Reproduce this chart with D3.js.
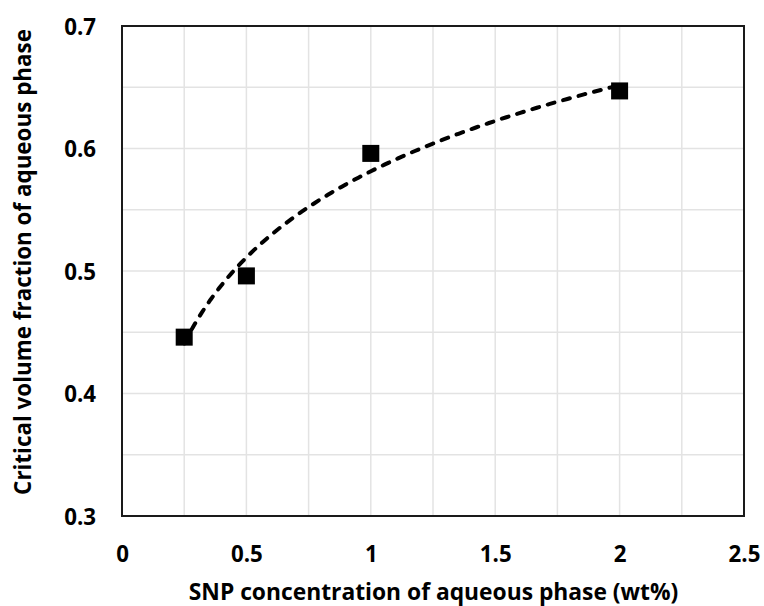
<!DOCTYPE html>
<html>
<head>
<meta charset="utf-8">
<script src="https://cdn.jsdelivr.net/npm/d3@7"></script>
<style>
  html, body { margin: 0; padding: 0; background: #fff; }
  text { font-family: "Open Sans", "Noto Sans", sans-serif; font-weight: 700; fill: #000; }
</style>
</head>
<body>
<svg id="chart" width="764" height="606"></svg>
<script>
// Data
const snpConcentration = [0.25, 0.5, 1, 2];
const criticalFraction = [0.446, 0.496, 0.596, 0.647];
const xTicks = [0, 0.5, 1, 1.5, 2, 2.5];
const yTicks = [0.3, 0.4, 0.5, 0.6, 0.7];
const xTitle = "SNP concentration of aqueous phase (wt%)";
const yTitle = "Critical volume fraction of aqueous phase";

const svg = d3.select("#chart");
const W = 764, H = 606;
const margin = { left: 122, top: 26, right: W - 744, bottom: H - 516 };

const x = d3.scaleLinear().domain([0, 2.5]).range([margin.left, W - margin.right]);
const y = d3.scaleLinear().domain([0.3, 0.7]).range([H - margin.bottom, margin.top]);

// Gridlines (major + minor)
const xGrid = d3.range(0, 2.5001, 0.25);
const yGrid = d3.range(0.3, 0.7001, 0.05);
svg.append("g").selectAll("line").data(xGrid).join("line")
  .attr("x1", d => x(d)).attr("x2", d => x(d))
  .attr("y1", y(0.3)).attr("y2", y(0.7))
  .attr("stroke", "#e3e3e3").attr("stroke-width", 1.5);
svg.append("g").selectAll("line").data(yGrid).join("line")
  .attr("x1", x(0)).attr("x2", x(2.5))
  .attr("y1", d => y(d)).attr("y2", d => y(d))
  .attr("stroke", "#e3e3e3").attr("stroke-width", 1.5);

// Frame
svg.append("rect")
  .attr("x", x(0)).attr("y", y(0.7))
  .attr("width", x(2.5) - x(0)).attr("height", y(0.3) - y(0.7))
  .attr("fill", "none").attr("stroke", "#1a1a1a").attr("stroke-width", 2);

// Axes (labels only)
const xAxis = d3.axisBottom(x).tickValues(xTicks).tickSize(0).tickPadding(0)
  .tickFormat(d => d3.format("")(d));
const gx = svg.append("g").attr("transform", `translate(0,${y(0.3)})`).call(xAxis);
gx.select(".domain").remove();
gx.selectAll("text").attr("dy", null).attr("y", 46).attr("font-size", 22.3)
  .style("font-family", '"Open Sans", sans-serif').style("font-weight", 700).attr("fill", "#000");

const yAxis = d3.axisLeft(y).tickValues(yTicks).tickSize(0).tickPadding(0)
  .tickFormat(d3.format(".1f"));
const gy = svg.append("g").attr("transform", `translate(${x(0)},0)`).call(yAxis);
gy.select(".domain").remove();
gy.selectAll("text").attr("x", -26).attr("dy", "0.36em").attr("font-size", 22.3)
  .style("font-family", '"Open Sans", sans-serif').style("font-weight", 700).attr("fill", "#000");

// Logarithmic trendline (least-squares fit of the data, like a spreadsheet trendline)
const lx = snpConcentration.map(Math.log);
const mx = d3.mean(lx), my = d3.mean(criticalFraction);
const slope = d3.sum(lx.map((v, i) => (v - mx) * (criticalFraction[i] - my))) / d3.sum(lx.map(v => (v - mx) ** 2));
const intercept = my - slope * mx;
const x0 = snpConcentration[0], x1 = snpConcentration[snpConcentration.length - 1];
const xs = d3.range(101).map(i => x0 + (x1 - x0) * i / 100);
const line = d3.line().x(d => x(d)).y(d => y(slope * Math.log(d) + intercept));
svg.append("path").datum(xs).attr("d", line)
  .attr("fill", "none").attr("stroke", "#000").attr("stroke-width", 4)
  .attr("stroke-linecap", "round").attr("stroke-dasharray", "7 9");

// Markers
const sz = 17;
svg.append("g").selectAll("rect").data(snpConcentration.map((v, i) => [v, criticalFraction[i]])).join("rect")
  .attr("x", d => x(d[0]) - sz / 2).attr("y", d => y(d[1]) - sz / 2)
  .attr("width", sz).attr("height", sz).attr("fill", "#000");

// Titles
svg.append("text").attr("x", 433.5).attr("y", 600)
  .attr("text-anchor", "middle").attr("font-size", 22.8).text(xTitle);
svg.append("text").attr("transform", `translate(31,262) rotate(-90)`)
  .attr("text-anchor", "middle").attr("font-size", 22.4).text(yTitle);
</script>
</body>
</html>
